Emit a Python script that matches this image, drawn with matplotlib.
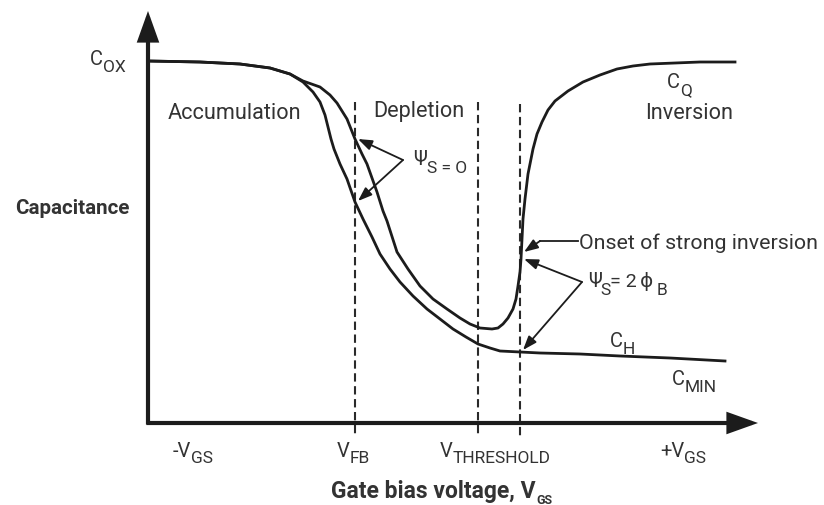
import matplotlib
matplotlib.use('Agg')
import matplotlib.pyplot as plt
import numpy as np

plt.rcParams['font.family'] = ['Roboto', 'DejaVu Sans']

# ── DATA (drawing units: x = gate bias, y = capacitance, y grows downward) ──
# high-frequency curve: C_OX -> depletion -> C_H / C_MIN
hf_x = [148, 200, 240, 270, 290, 303, 313, 320, 325, 328, 331, 334, 340, 347, 355, 363,
        372, 380, 390, 400, 413, 427, 440, 453, 466, 478, 490, 500, 520, 540, 580, 620,
        670, 725]
hf_y = [62, 63, 65, 69, 75, 83, 93, 103, 116, 128, 140, 150, 165, 180, 203, 220,
        238, 255, 270, 283, 297, 310, 320, 330, 338, 345, 349, 352, 353, 354, 355, 357,
        359, 362]

# low-frequency / quasi-static curve: dips then climbs back to C_Q
lf_x = [148, 200, 240, 270, 290, 303, 320, 330, 337, 347, 355, 362, 367, 377, 383, 387,
        397, 408, 420, 433, 447, 460, 470, 480, 492, 498, 503, 508, 513, 516, 518, 520,
        521, 522, 523, 525, 528, 533, 537, 542, 548, 555, 568, 583, 600, 617, 633, 650,
        675, 700, 735]
lf_y = [62, 63, 65, 69, 75, 82, 88, 96, 104, 120, 140, 155, 165, 193, 212, 222,
        253, 270, 287, 300, 310, 319, 325, 329, 330, 329, 325, 319, 310, 300, 287, 273,
        260, 240, 220, 200, 175, 150, 135, 123, 111, 102, 92, 83, 76, 70, 67, 65,
        64, 63, 63]

# vertical markers: V_FB, V_THRESHOLD, onset of strong inversion
vlines_x = [355, 478, 520]
vlines_top = [103, 103, 105]
vline_bottom = 437

# axes frame
origin = (148, 424)
x_tip = 758
y_tip = 12

line_c = '#1c1c1c'
txt_c = '#333333'

fig = plt.figure(figsize=(8.24, 5.06), dpi=100, facecolor='w')
ax = fig.add_axes([0, 0, 1, 1])
ax.set_xlim(0, 824)
ax.set_ylim(506, 0)
ax.axis('off')
renderer = fig.canvas.get_renderer()

# dashed markers
for vx, vt in zip(vlines_x, vlines_top):
    ax.plot([vx, vx], [vt, vline_bottom], color='#2a2a2a', lw=1.5,
            dashes=(4, 2.2), zorder=1)

# curves
ax.plot(hf_x, hf_y, color=line_c, lw=2.0, solid_joinstyle='round', zorder=3)
ax.plot(lf_x, lf_y, color=line_c, lw=2.0, solid_joinstyle='round', zorder=3)

# axes with arrow heads
ax_arrow = dict(arrowstyle='-|>,head_length=0.42,head_width=0.15', color=line_c,
                lw=3.0, shrinkA=0, shrinkB=0, joinstyle='miter', capstyle='butt')
ax.annotate('', xy=(x_tip, origin[1]), xytext=(origin[0] - 1.5, origin[1]),
            arrowprops=dict(ax_arrow, mutation_scale=40), zorder=4)
ax.annotate('', xy=(origin[0], y_tip), xytext=(origin[0], origin[1] + 1.5),
            arrowprops=dict(ax_arrow, mutation_scale=40), zorder=4)

# pointer arrows
ptr = dict(arrowstyle='-|>,head_length=0.6,head_width=0.22', color=line_c, lw=1.3,
           shrinkA=0, shrinkB=0, mutation_scale=14)
psi0_apex = (403, 161)
for tip in [(358, 140), (358, 202)]:
    ax.annotate('', xy=tip, xytext=psi0_apex, arrowprops=ptr, zorder=5)

psi2_apex = (582, 283)
for tip in [(524, 260), (523, 351)]:
    ax.annotate('', xy=tip, xytext=psi2_apex, arrowprops=ptr, zorder=5)

ax.plot([578, 540], [242, 242], color=line_c, lw=1.3, zorder=5)
ax.annotate('', xy=(524, 253), xytext=(540, 242), arrowprops=ptr, zorder=5)


# ── TEXT ──────────────────────────────────────────────────────────────────
def label(x, y, s, size=14.5, weight='normal'):
    return ax.text(x, y, s, fontsize=size, color=txt_c, ha='left', va='baseline',
                   fontweight=weight)


def sub_label(x, y, base, sub, size=14.5, sub_size=12.5, drop=5.0, gap=0.0):
    t = label(x, y, base, size)
    w = t.get_window_extent(renderer).width * 72 / fig.dpi
    ax.annotate(sub, (x, y), xytext=(w + gap, -drop), textcoords='offset points',
                fontsize=sub_size, color=txt_c, ha='left', va='baseline')


sub_label(90, 65, 'C', 'OX')
label(168, 119, 'Accumulation', size=15.6)
label(373, 117, 'Depletion', size=15.6)
label(645, 119, 'Inversion', size=15.6)
sub_label(667, 88, 'C', 'Q')
sub_label(610, 347, 'C', 'H')
sub_label(672, 385, 'C', 'MIN')

sub_label(413, 165, 'Ψ', 'S = O', sub_size=12.5, drop=6)
label(579, 249, 'Onset of strong inversion', size=15.4)

label(588, 287, 'Ψ')
ax.text(600, 295, 'S', fontsize=12.5, color=txt_c, va='baseline')
label(610, 287, '= 2', size=14)
label(640, 287, 'ϕ')
ax.text(657, 295, 'B', fontsize=12.5, color=txt_c, va='baseline')

sub_label(173, 457, '-V', 'GS', drop=4)
sub_label(337, 457, 'V', 'FB', drop=4)
sub_label(440, 457, 'V', 'THRESHOLD', drop=4)
sub_label(660, 457, '+V', 'GS', drop=4)

ax.text(15, 214, 'Capacitance', fontsize=14.8, fontweight='bold', color=txt_c,
        ha='left', va='baseline')
t = ax.text(331, 498, 'Gate bias voltage, V', fontsize=16.5, fontweight='bold',
            color=txt_c, ha='left', va='baseline')
w = t.get_window_extent(renderer).width * 72 / fig.dpi
ax.annotate('GS', (331, 498), xytext=(w + 0.5, -4), textcoords='offset points',
            fontsize=9, fontweight='bold', color=txt_c, ha='left', va='baseline')

fig.savefig('out.png', dpi=100, facecolor='w')
